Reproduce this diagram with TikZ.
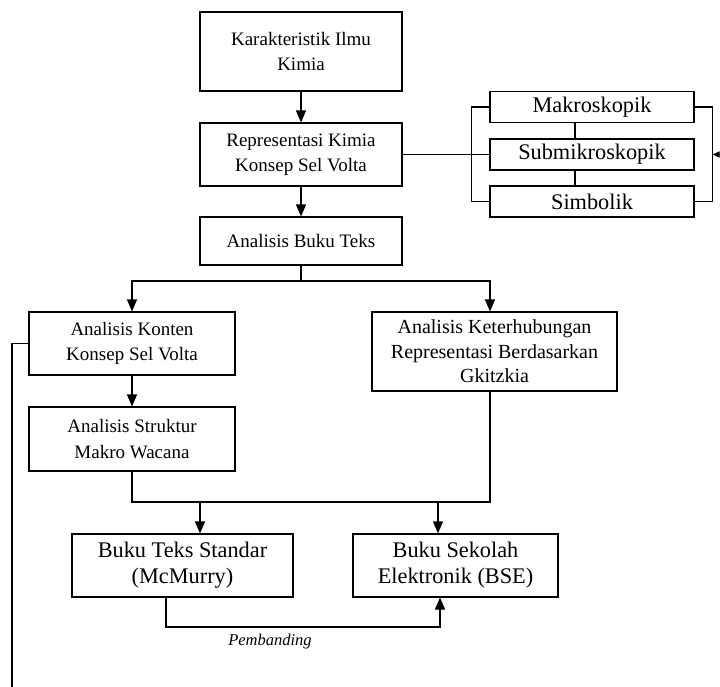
\documentclass[tikz,border=0pt]{standalone}
\usepackage{fontspec}
\setmainfont{Liberation Serif}
\usepackage{tikz}
\usetikzlibrary{calc}
\usetikzlibrary{arrows.meta}

\begin{document}
\begin{tikzpicture}[x=1pt,y=-1pt,line width=1.1pt,
  >={Triangle[length=12pt,width=10pt]},
  kotak/.style={draw,align=center,inner sep=0pt,
    font=\fontsize{22.3}{26}\selectfont},
  atas/.style={kotak,font=\fontsize{19}{25.5}\selectfont},
  kecil/.style={kotak,minimum width=204pt,minimum height=31pt}]
  \useasboundingbox (0,0) rectangle (720,686);

\node[atas,minimum width=202pt,minimum height=79pt] (karakter) at (301,51.5)
  {Karakteristik Ilmu\\Kimia};
\node[atas,minimum width=202pt,minimum height=63pt] (repr) at (301,154.5)
  {Representasi Kimia\\Konsep Sel Volta};
\node[atas,minimum width=202pt,minimum height=48pt] (buku) at (301,241)
  {Analisis Buku Teks};

\node[kecil] (makro) at (592,107) {Makroskopik};
\node[kecil] (submikro) at (592,154.5) {Submikroskopik};
\node[kecil] (simbol) at (592,201.5) {Simbolik};

\node[atas,minimum width=206pt,minimum height=63pt] (konten) at (132,343.5)
  {Analisis Konten\\Konsep Sel Volta};
\node[kotak,minimum width=245pt,minimum height=79pt,
  font=\fontsize{20}{24.5}\selectfont] (keterhub) at (494.5,351.5)
  {Analisis Keterhubungan\\Representasi Berdasarkan\\Gkitzkia};
\node[atas,minimum width=206pt,minimum height=64pt] (struktur) at (132,439)
  {Analisis Struktur\\Makro Wacana};

\node[kotak,minimum width=221pt,minimum height=63pt] (mcmurry) at (182.5,565.5)
  {Buku Teks Standar\\(McMurry)};
\node[kotak,minimum width=205pt,minimum height=63pt] (bse) at (455.5,565.5)
  {Buku Sekolah\\Elektronik (BSE)};

% alur utama
\draw[->] (karakter) -- (repr);
\draw[->] (repr) -- (buku);
\draw (repr) -- (submikro);

% kurung kiri dan kanan
\draw (makro.west) -- ++(-18,0) |- (simbol.west);
\draw (makro.east) -- ++(18,0) |- (simbol.east);
\draw ($(makro.south)+(-17,0)$) -- ($(submikro.north)+(-17,0)$);
\draw ($(submikro.south)+(-17,0)$) -- ($(simbol.north)+(-17,0)$);
\coordinate (kanan) at (724,154.5);
\draw[-{Triangle[length=7pt,width=6pt]}] (kanan) -- ($(submikro.east)+(18,0)$);

% cabang
\coordinate (cabang) at (301,281);
\draw (buku) -- (cabang);
\draw[->] (cabang) -| (konten);
\draw[->] (cabang) -| ($(keterhub.north)+(-4.5,0)$);
\draw[->] (konten) -- (struktur);

% gabung
\coordinate (gabung) at (132,502);
\draw (struktur) -- (gabung) -- (490,502) -- ($(keterhub.south)+(-4.5,0)$);
\draw[->] (200,502) -- (mcmurry.north -| 200,0);
\draw[->] (438,502) -- (bse.north -| 438,0);

% pembanding
\draw[->] ($(mcmurry.south)+(-16.5,0)$) -- (166,627) -- (440,627) -- (bse.south -| 440,0);
\node[font=\fontsize{16.5}{20}\selectfont\itshape] (banding) at (270,642) {Pembanding};

% garis kiri
\draw (konten.west) -- (12,343.5) -- (12,690);

\end{tikzpicture}
\end{document}
